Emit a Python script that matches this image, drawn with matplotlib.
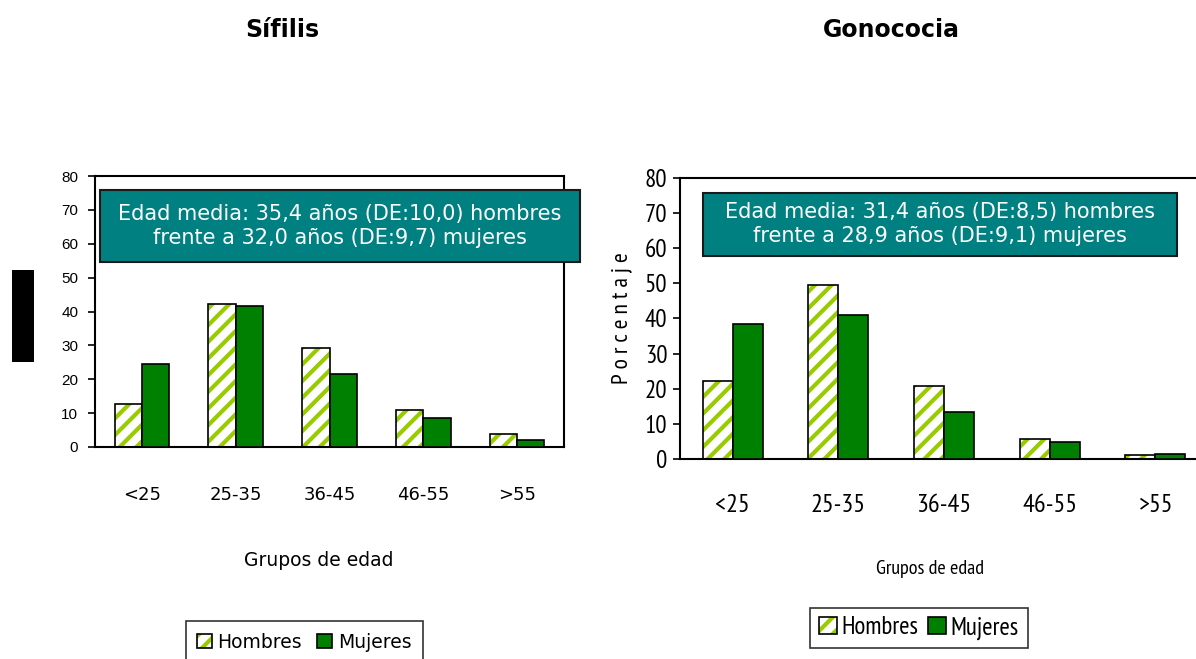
import matplotlib
matplotlib.use("Agg")
import matplotlib.pyplot as plt
import numpy as np
from matplotlib.patches import Rectangle, Patch
from matplotlib.legend_handler import HandlerTuple

categories = ["<25", "25-35", "36-45", "46-55", ">55"]
sifilis_hombres = [12.6, 42.2, 29.1, 11.0, 3.9]
sifilis_mujeres = [24.5, 41.6, 21.6, 8.6, 2.2]
gono_hombres = [22.1, 49.5, 20.8, 5.7, 1.2]
gono_mujeres = [38.5, 41.0, 13.5, 4.8, 1.5]
yticks = [0, 10, 20, 30, 40, 50, 60, 70, 80]
box_left = "Edad media: 35,4 años (DE:10,0) hombres\nfrente a 32,0 años (DE:9,7) mujeres"
box_right = "Edad media: 31,4 años (DE:8,5) hombres\nfrente a 28,9 años (DE:9,1) mujeres"

GREEN = "#008000"
LIME = "#99CC00"
TEAL = "#008080"
plt.rcParams['hatch.linewidth'] = 3.0

W, H = 1196, 659
fig = plt.figure(figsize=(W / 100, H / 100), dpi=100)

def fx(x): return x / W
def fy(y): return 1 - y / H

narrow = ['PT Sans Narrow', 'Archivo Narrow', 'DejaVu Sans']

def draw(ax, hom, muj, bw):
    x = np.arange(len(categories))
    ax.bar(x - bw / 2, hom, bw, facecolor="white", edgecolor=LIME, hatch="//", linewidth=0, zorder=2)
    ax.bar(x - bw / 2, hom, bw, facecolor="none", edgecolor="black", linewidth=1.2, zorder=3)
    ax.bar(x + bw / 2, muj, bw, facecolor=GREEN, edgecolor="black", linewidth=1.2, zorder=3)
    ax.set_xlim(-0.5, len(categories) - 0.5)
    ax.set_ylim(0, 80)
    ax.set_yticks(yticks)
    ax.set_xticks(x)
    ax.set_xticklabels(categories)
    ax.tick_params(axis='x', length=0)
    ax.tick_params(axis='y', direction='out', length=5, width=1.2)
    for s in ax.spines.values():
        s.set_linewidth(1.5)

# Left chart
axL = fig.add_axes([fx(95), fy(447), fx(564 - 95), (447 - 176) / H])
draw(axL, sifilis_hombres, sifilis_mujeres, 0.29)
axL.tick_params(axis='y', labelsize=11, pad=7)
for t in axL.get_yticklabels():
    t.set_family(['Liberation Sans', 'DejaVu Sans'])
axL.tick_params(axis='x', labelsize=13, pad=28)

# Right chart
axR = fig.add_axes([fx(680), fy(459), fx(1208 - 680), (459 - 178) / H])
draw(axR, gono_hombres, gono_mujeres, 0.285)
axR.tick_params(axis='y', labelsize=18, pad=4)
axR.tick_params(axis='x', labelsize=19, pad=25)
for t in axR.get_yticklabels() + axR.get_xticklabels():
    t.set_family(narrow)
axR.set_ylabel("P o r c e n t a j e", fontsize=17, labelpad=9, family=narrow)

# Titles
fig.text(fx(282), fy(30), "Sífilis", ha="center", va="center", fontsize=17, fontweight="bold")
fig.text(fx(891), fy(30), "Gonococia", ha="center", va="center", fontsize=17, fontweight="bold")

# X labels
fig.text(fx(319), fy(561), "Grupos de edad", ha="center", va="center", fontsize=13.5)
fig.text(fx(930), fy(569), "Grupos de edad", ha="center", va="center", fontsize=14.5, family=narrow)

# Teal boxes
for (x0, y0, x1, y1, txt) in [(100, 190, 580, 262, box_left), (703, 193, 1177, 256, box_right)]:
    fig.patches.append(Rectangle((fx(x0), fy(y1)), fx(x1 - x0), (y1 - y0) / H,
                                 transform=fig.transFigure, facecolor=TEAL,
                                 edgecolor="#1a1a1a", linewidth=1.5, zorder=5))
    fig.text(fx((x0 + x1) / 2), fy((y0 + y1) / 2), txt, ha="center", va="center",
             color="white", fontsize=15, linespacing=1.25, zorder=6)

# Black block
fig.patches.append(Rectangle((fx(12), fy(362)), fx(22), 92 / H, transform=fig.transFigure,
                             facecolor="black", edgecolor="none", zorder=5))

# Legends
def handles():
    h1 = Patch(facecolor="white", edgecolor=LIME, hatch="//", linewidth=0)
    h2 = Patch(facecolor="none", edgecolor="black", linewidth=1.2)
    h3 = Patch(facecolor=GREEN, edgecolor="black", linewidth=1.2)
    return [(h1, h2), h3]

legL = fig.legend(handles(), ["Hombres", "Mujeres"], handler_map={tuple: HandlerTuple(ndivide=1)},
                  loc="center", bbox_to_anchor=(fx(304), fy(642)), ncol=2, frameon=True,
                  fontsize=13.5, handlelength=0.8, handleheight=0.8, handletextpad=0.3,
                  columnspacing=0.8, fancybox=False, edgecolor="black", borderpad=0.6)
legL.get_frame().set_linewidth(1.2)
legR = fig.legend(handles(), ["Hombres", "Mujeres"], handler_map={tuple: HandlerTuple(ndivide=1)},
                  loc="center", bbox_to_anchor=(fx(919), fy(628)), ncol=2, frameon=True,
                  prop={'family': narrow, 'size': 18}, handlelength=0.7, handleheight=0.7,
                  handletextpad=0.2, columnspacing=0.4, fancybox=False, edgecolor="black", borderpad=0.35)
legR.get_frame().set_linewidth(1.2)

fig.savefig("out.png", dpi=100)
